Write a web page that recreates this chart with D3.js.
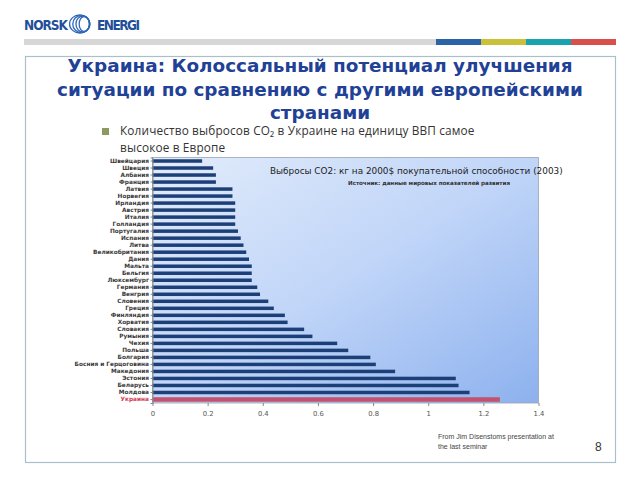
<!DOCTYPE html>
<html><head><meta charset="utf-8">
<script src="https://cdn.jsdelivr.net/npm/d3@7"></script>
<style>body{margin:0;background:#fff}svg{display:block}</style>
</head><body>
<script>
const countries = ["Швейцария","Швеция","Албания","Франция","Латвия","Норвегия","Ирландия","Австрия","Италия","Голландия","Португалия","Испания","Литва","Великобритания","Дания","Мальта","Бельгия","Люксембург","Германия","Венгрия","Словения","Греция","Финляндия","Хорватия","Словакия","Румыния","Чехия","Польша","Болгария","Босния и Герцоговина","Македония","Эстония","Беларусь","Молдова","Украина"];
const emissions = [0.18,0.22,0.23,0.23,0.29,0.29,0.30,0.30,0.30,0.30,0.31,0.32,0.33,0.34,0.35,0.36,0.36,0.36,0.38,0.39,0.42,0.44,0.48,0.49,0.55,0.58,0.67,0.71,0.79,0.81,0.88,1.10,1.11,1.15,1.26];
const xTicks = [0,0.2,0.4,0.6,0.8,1,1.2,1.4];
const titleLines = ["Украина: Колоссальный потенциал улучшения","ситуации по сравнению с другими европейскими","странами"];
const highlight = "Украина";

const svg = d3.select("body").append("svg").attr("width",640).attr("height",480);
const defs = svg.append("defs");
const grad = defs.append("linearGradient").attr("id","bg").attr("x1","0").attr("y1","0").attr("x2","1").attr("y2","1");
grad.append("stop").attr("offset","0%").attr("stop-color","#e2ecfb");
grad.append("stop").attr("offset","50%").attr("stop-color","#c0d5f8");
grad.append("stop").attr("offset","100%").attr("stop-color","#8db1ee");

// header
const logoFont = "Liberation Sans Narrow, DejaVu Sans Condensed, sans-serif";
svg.append("text").attr("x",24).attr("y",30).attr("font-family",logoFont)
  .attr("font-weight","bold").attr("font-size",13.5).attr("fill","#1f4f9c").attr("textLength",44).text("NORSK");
svg.append("text").attr("x",97).attr("y",30).attr("font-family",logoFont)
  .attr("font-weight","bold").attr("font-size",13.5).attr("fill","#1f4f9c").attr("textLength",43).text("ENERGI");
const sw = svg.append("g").attr("transform","translate(82,24)");
[12,10,8,6].forEach((r,i)=>{
  sw.append("ellipse").attr("cx",(i-1.5)*1.5).attr("cy",0).attr("rx",r*0.85).attr("ry",9-i*0.5)
    .attr("fill","none").attr("stroke","#2f68b8").attr("stroke-width",1.3);
});
svg.append("rect").attr("x",24).attr("y",39).attr("width",412).attr("height",6).attr("fill","#d7d7d7");
const stripe = ["#2a64a6","#c9c13a","#19a4ad","#d9504a"];
stripe.forEach((c,i)=>svg.append("rect").attr("x",436+i*45).attr("y",39).attr("width",45).attr("height",6).attr("fill",c));

// frame
svg.append("rect").attr("x",25.5).attr("y",56.5).attr("width",590).attr("height",406).attr("fill","none").attr("stroke","#a9bfcc").attr("stroke-width",1.2);

// title
titleLines.forEach((t,i)=>svg.append("text").attr("x",320).attr("y",72+i*23.5).attr("text-anchor","middle")
  .attr("font-family","DejaVu Sans, Verdana, sans-serif").attr("font-weight","bold").attr("font-size",18.4)
  .attr("fill","#1f4196").text(t));

// bullet
svg.append("rect").attr("x",102).attr("y",128).attr("width",7).attr("height",7).attr("fill","#8c9a62");
svg.append("text").attr("x",120).attr("y",135).attr("font-family","Open Sans, sans-serif").attr("font-size",11.8).attr("letter-spacing",0.15).attr("fill","#333")
  .text("Количество выбросов CO₂ в Украине на единицу ВВП самое");
svg.append("text").attr("x",120).attr("y",151.5).attr("font-family","Open Sans, sans-serif").attr("font-size",11.8).attr("letter-spacing",0.15).attr("fill","#333").text("высокое в Европе");

// chart
const x = d3.scaleLinear().domain([0,1.4]).range([152.5,538.5]);
const y = d3.scaleBand().domain(countries).range([157.5,403]).paddingInner(0.5).paddingOuter(0.25);
svg.append("rect").attr("x",x(0)).attr("y",157.5).attr("width",x(1.4)-x(0)).attr("height",403-157.5)
  .attr("fill","url(#bg)").attr("stroke","#9aa4b0").attr("stroke-width",0.8);

svg.append("text").attr("x",270).attr("y",173.5).attr("font-family","DejaVu Sans, sans-serif").attr("font-size",8.9).attr("fill","#222")
  .text("Выбросы CO2: кг на 2000$ покупательной способности (2003)");
svg.append("text").attr("x",348).attr("y",185).attr("font-family","DejaVu Sans, sans-serif").attr("font-weight","bold").attr("font-size",5.6).attr("fill","#333")
  .attr("textLength",162).text("Источник:  данные мировых показателей развития");

svg.append("g").selectAll("rect").data(countries).join("rect")
  .attr("x",x(0)).attr("y",d=>y(d)+(d===highlight?-0.5:0)).attr("height",d=>y.bandwidth()+(d===highlight?1:0))
  .attr("width",(d,i)=>x(emissions[i])-x(0))
  .attr("fill",d=>d===highlight?"#c2536e":"#1d3f78");

const xa = svg.append("g").attr("transform","translate(0,403)").call(d3.axisBottom(x).tickValues(xTicks).tickSize(3).tickFormat(d3.format("")));
xa.select(".domain").remove();
xa.selectAll("line").attr("stroke","#888");
xa.selectAll("text").attr("font-family","DejaVu Sans, sans-serif").attr("font-size",6.8).attr("fill","#555").attr("dy","1.1em");

const ya = svg.append("g").attr("transform",`translate(${x(0)},0)`).call(d3.axisLeft(y).tickSize(2).tickPadding(1.5));
ya.select(".domain").attr("stroke","#888");
ya.selectAll("line").attr("stroke","#888");
ya.selectAll("text").attr("font-family","DejaVu Sans, sans-serif").attr("font-weight","bold").attr("font-size",5.8)
  .attr("fill",d=>d===highlight?"#d23a55":"#3a3a3a");

// footer
svg.append("text").attr("x",438).attr("y",439).attr("font-family","Liberation Sans, Arial, sans-serif").attr("font-size",7).attr("fill","#444").text("From Jim Disenstoms presentation at");
svg.append("text").attr("x",438).attr("y",448.5).attr("font-family","Liberation Sans, Arial, sans-serif").attr("font-size",7).attr("fill","#444").text("the last seminar");
svg.append("text").attr("x",595).attr("y",451).attr("font-family","Liberation Sans, Arial, sans-serif").attr("font-size",12).attr("fill","#333").text("8");
</script>
</body></html>
